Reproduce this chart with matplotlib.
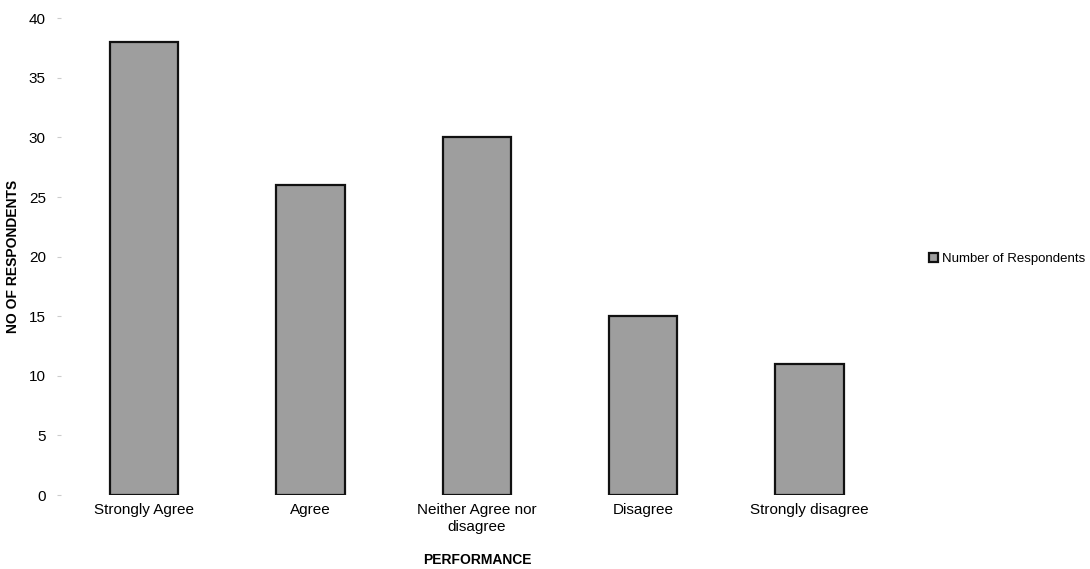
import matplotlib.pyplot as plt
import numpy as np

# data
kategorie = ['Strongly Agree', 'Agree', 'Neither Agree nor\ndisagree', 'Disagree', 'Strongly disagree']
respondenti = [38, 26, 30, 15, 11]
y_ticks = [0, 5, 10, 15, 20, 25, 30, 35, 40]

plt.rcParams['font.family'] = ['Liberation Sans', 'DejaVu Sans']

fig = plt.figure(figsize=(10.9, 5.69), dpi=100)
ax = fig.add_axes([0.056, 0.130, 0.763, 0.838])

x = np.arange(len(kategorie))
ax.bar(x, respondenti, width=0.41, color='#9e9e9e', edgecolor='#111111',
       linewidth=1.6, label='Number of Respondents')

ax.set_xlim(-0.5, len(kategorie) - 0.5)
ax.set_ylim(0, 40)
ax.set_yticks(y_ticks)
ax.set_xticks(x)
ax.set_xticklabels(kategorie, fontsize=11)
ax.tick_params(axis='y', labelsize=11, length=3, color='#cccccc', pad=8)
ax.tick_params(axis='x', length=0, pad=6)

for s in ax.spines.values():
    s.set_visible(False)

ax.set_xlabel('PERFORMANCE', fontsize=10, fontweight='bold', labelpad=14)
ax.set_ylabel('NO OF RESPONDENTS', fontsize=10, fontweight='bold', labelpad=6)

fig.legend(loc='center left', bbox_to_anchor=(0.852, 0.545), frameon=False,
           fontsize=9.5, handlelength=0.7, handleheight=0.7, handletextpad=0.3,
           borderaxespad=0, borderpad=0)

plt.savefig('out.png', dpi=100)
